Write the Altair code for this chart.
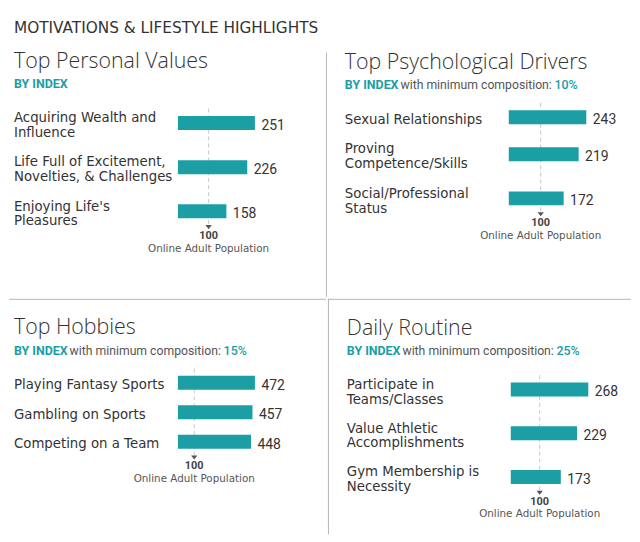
import altair as alt
import pandas as pd

# ---------------- data ----------------
MAIN_TITLE = "MOTIVATIONS & LIFESTYLE HIGHLIGHTS"
SUB_LEAD = "BY INDEX"
SUB_TEXT = "with minimum composition:"
BENCHMARK = 100
BENCH_LABEL = "Online Adult Population"

p1_title = "Top Personal Values"
p1_labels = ["Acquiring Wealth and\nInfluence",
             "Life Full of Excitement,\nNovelties, & Challenges",
             "Enjoying Life's\nPleasures"]
p1_values = [251, 226, 158]
p1_min = ""

p2_title = "Top Psychological Drivers"
p2_labels = ["Sexual Relationships",
             "Proving\nCompetence/Skills",
             "Social/Professional\nStatus"]
p2_values = [243, 219, 172]
p2_min = "10%"

p3_title = "Top Hobbies"
p3_labels = ["Playing Fantasy Sports",
             "Gambling on Sports",
             "Competing on a Team"]
p3_values = [472, 457, 448]
p3_min = "15%"

p4_title = "Daily Routine"
p4_labels = ["Participate in\nTeams/Classes",
             "Value Athletic\nAccomplishments",
             "Gym Membership is\nNecessity"]
p4_values = [268, 229, 173]
p4_min = "25%"

# ---------------- style ----------------
TEAL = "#1b9ea4"
DARK = "#333333"
GREY = "#555555"
LABEL_FONT = "DejaVu Sans"
VALUE_FONT = "Roboto"
TITLE_FONT = "Open Sans"
SUB_FONT = "Roboto"
LH = 15      # label line height
GAP = 16     # gap between rows


def text_layer(txt, x, y, **kw):
    return alt.Chart(pd.DataFrame({"t": [txt]})).mark_text(
        align="left", baseline="alphabetic", **kw
    ).encode(x=alt.value(x), y=alt.value(y), text="t:N")


def divider(x, x2, y, y2):
    return alt.Chart(pd.DataFrame({"d": [0]})).mark_rule(
        color="#b4b4b4", strokeWidth=1
    ).encode(x=alt.value(x), x2=alt.value(x2), y=alt.value(y), y2=alt.value(y2))


def panel(title, labels, values, minc, W, H, x0, top, title_y, sub_y,
          bar_range, extra=()):
    df = pd.DataFrame({"order": list(range(len(labels))),
                       "label": labels, "value": values})
    xs = alt.Scale(zero=True, nice=False, range=bar_range)
    ys = alt.Scale(domain=[0, H], range=[0, H], nice=False, zero=False)

    base = alt.Chart(df).transform_calculate(
        lines="length(split(datum.label, '\\n'))"
    ).transform_window(
        cum="sum(lines)", idx="row_number()", sort=[alt.SortField("order")]
    ).transform_calculate(
        yc=f"{top} + {LH}*(datum.cum - datum.lines) + {GAP}*(datum.idx - 1) + {LH/2}*datum.lines"
    ).transform_calculate(
        ylab=f"datum.yc - {LH/2}*(datum.lines - 1)"
    )

    summ = base.transform_aggregate(
        ymin="min(yc)", ymax="max(yc)"
    ).transform_calculate(
        bench=f"{BENCHMARK}",
        r1="datum.ymin - 15", r2="datum.ymax + 15",
        tri="datum.ymax + 16.5", t100="datum.ymax + 29",
        tpop="datum.ymax + 42",
    )

    rule = summ.mark_rule(color="#c8c8c8", strokeDash=[4, 3], strokeWidth=1).encode(
        x=alt.X("bench:Q", scale=xs, axis=None),
        y=alt.Y("r1:Q", scale=ys, axis=None), y2="r2:Q")
    tri = summ.mark_point(shape="M-1,-0.65L1,-0.65L0,0.65Z", filled=True,
                          size=40, color=GREY, opacity=1).encode(
        x=alt.X("bench:Q", scale=xs, axis=None),
        y=alt.Y("tri:Q", scale=ys, axis=None))
    t100 = summ.mark_text(align="center", baseline="alphabetic", font=VALUE_FONT,
                          fontSize=11, fontWeight="bold", color="#444444").encode(
        x=alt.X("bench:Q", scale=xs, axis=None),
        y=alt.Y("t100:Q", scale=ys, axis=None), text="bench:Q")
    tpop = summ.mark_text(align="center", baseline="alphabetic", font=LABEL_FONT,
                          fontSize=10.4, color=GREY).encode(
        x=alt.X("bench:Q", scale=xs, axis=None),
        y=alt.Y("tpop:Q", scale=ys, axis=None), text=alt.value(BENCH_LABEL))

    bars = base.mark_bar(orient="horizontal", size=14, color=TEAL).encode(
        x=alt.X("value:Q", scale=xs, axis=None),
        y=alt.Y("yc:Q", scale=ys, axis=None))
    vals = base.mark_text(align="left", baseline="middle", dx=6.5, dy=3,
                          font=VALUE_FONT, fontSize=14, color=DARK).encode(
        x=alt.X("value:Q", scale=xs, axis=None),
        y=alt.Y("yc:Q", scale=ys, axis=None), text="value:Q")
    labs = base.mark_text(align="left", baseline="middle", lineBreak="\n",
                          lineHeight=LH, dy=2.5, font=LABEL_FONT, fontSize=13.4,
                          color=DARK).encode(
        x=alt.value(x0), y=alt.Y("ylab:Q", scale=ys, axis=None), text="label:N")

    layers = list(extra)
    layers.append(text_layer(title, x0, title_y, font=TITLE_FONT, fontSize=21.5,
                             fontWeight=300, color=DARK))
    layers.append(text_layer(SUB_LEAD, x0, sub_y, font=SUB_FONT, fontSize=12.5,
                             fontWeight="bold", color=TEAL))
    if minc:
        layers.append(text_layer(SUB_TEXT, x0 + 56, sub_y, font=SUB_FONT,
                                 fontSize=12.3, color=GREY))
        layers.append(text_layer(minc, x0 + 211, sub_y, font=SUB_FONT,
                                 fontSize=12.5, fontWeight=500, color=TEAL))
    layers += [rule, bars, vals, labs, tri, t100, tpop]
    return alt.layer(*layers).properties(width=W, height=H)


WL, WR, HT, HB = 319, 305, 289, 237

p1 = panel(p1_title, p1_labels, p1_values, p1_min, WL, HT, 5, 98, 58.7, 79.3,
           [170, 247.5],
           extra=[text_layer(MAIN_TITLE, 5, 23, font=LABEL_FONT, fontSize=15.4,
                             color=DARK)])
p2 = panel(p2_title, p2_labels, p2_values, p2_min, WR, HT, 19, 99.5, 59.5, 80,
           [184, 262],
           extra=[divider(0.5, 0.5, 43, HT)])
p3 = panel(p3_title, p3_labels, p3_values, p3_min, WL, HB, 5, 75.5, 35.3, 56.3,
           [170, 247.5],
           extra=[divider(0, WL, 0.5, 0.5)])
p4 = panel(p4_title, p4_labels, p4_values, p4_min, WR, HB, 19, 75, 36.3, 57,
           [184, 262],
           extra=[divider(0, WR, 0.5, 0.5), divider(0.5, 0.5, 0, HB)])

top_row = alt.hconcat(p1, p2, spacing=0).resolve_scale(x="independent", y="independent")
bot_row = alt.hconcat(p3, p4, spacing=0).resolve_scale(x="independent", y="independent")
chart = alt.vconcat(top_row, bot_row, spacing=0).resolve_scale(
    x="independent", y="independent"
).properties(padding=0).configure_view(stroke=None)

chart.save("out.html", embed_options={"renderer": "svg", "actions": False})
